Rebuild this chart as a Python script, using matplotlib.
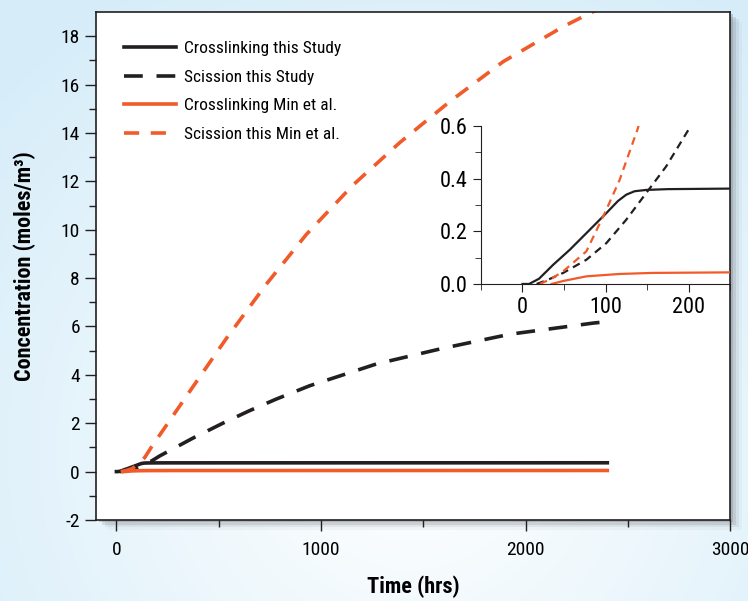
import numpy as np
import matplotlib.pyplot as plt
from matplotlib import font_manager
from matplotlib.colors import LinearSegmentedColormap

# crosslinking, this study
t_xl_us = [0, 8, 20, 37, 57, 77, 101, 115, 125, 135, 149, 175, 250, 2400]
xl_us = [0, 0, 0.02, 0.073, 0.13, 0.193, 0.269, 0.315, 0.339, 0.352, 0.357, 0.36, 0.362, 0.365]

# scission, this study
t_sc_us = [17, 30, 49, 77, 101, 125, 149, 173, 201, 210, 373, 520, 651, 782, 945, 1271, 1597, 1924, 2331, 2400]
sc_us = [0, 0.015, 0.042, 0.092, 0.155, 0.244, 0.345, 0.446, 0.591, 0.64, 1.38, 2.0, 2.52, 3.0, 3.55, 4.45, 5.1, 5.68, 6.14, 6.2]

# crosslinking, Min et al.
t_xl_min = [35, 50, 77, 117, 157, 249, 2400]
xl_min = [0, 0.012, 0.029, 0.038, 0.042, 0.044, 0.046]

# scission, Min et al.
t_sc_min = [21, 35, 49, 77, 101, 117, 139, 170, 357, 537, 733, 928, 1157, 1385, 1630, 1891, 2185, 2331, 2400]
sc_min = [0, 0.02, 0.048, 0.124, 0.282, 0.395, 0.591, 1.0, 3.3, 5.5, 7.75, 9.8, 11.85, 13.6, 15.3, 16.95, 18.4, 19.02, 19.3]

labels = ["Crosslinking this Study", "Scission this Study",
          "Crosslinking Min et al.", "Scission this Min et al."]

black = "#231f20"
orange = "#f15a29"

names = set(f.name for f in font_manager.fontManager.ttflist)
fam = "DejaVu Sans"
for c in ["Liberation Sans Narrow", "Roboto Condensed", "Open Sans Condensed",
          "Noto Sans Condensed", "DejaVu Sans Condensed"]:
    if c in names:
        fam = c
        break
plt.rcParams['font.family'] = [fam, 'DejaVu Sans']
plt.rcParams['font.stretch'] = 'condensed'
plt.rcParams['axes.unicode_minus'] = False

fig = plt.figure(figsize=(7.48, 6.01), dpi=100)

# light blue background
bg = fig.add_axes([0, 0, 1, 1], zorder=-10)
yy, xx = np.mgrid[0:1:300j, 0:1:300j]
d = np.sqrt(((xx - 0.55) / 0.75) ** 2 + ((yy - 0.25) / 0.9) ** 2)
bg.imshow(np.clip(d, 0, 1), cmap=LinearSegmentedColormap.from_list("b", ["#ffffff", "#d6edf9"]),
          extent=[0, 1, 0, 1], aspect="auto", origin="lower")
bg.axis("off")

# shadow under the plot box
for i, a in enumerate([0.35, 0.2, 0.12, 0.06]):
    fig.patches.append(plt.Rectangle((0.1283 + (i + 1) * 0.004, 0.1348 - (i + 1) * 0.004),
                                     0.8477, 0.8452, transform=fig.transFigure,
                                     facecolor="#7a8088", alpha=a, zorder=-5, linewidth=0))

ax = fig.add_axes([0.1283, 0.1348, 0.8477, 0.8452])
ax.set_facecolor("white")
ax.plot(t_xl_us, xl_us, color=black, lw=2.6, label=labels[0])
ax.plot(t_sc_us, sc_us, color=black, lw=2.6, dashes=(5.2, 3.8), label=labels[1])
ax.plot(t_xl_min, xl_min, color=orange, lw=2.6, label=labels[2])
ax.plot(t_sc_min, sc_min, color=orange, lw=2.6, dashes=(4.2, 3.2), label=labels[3])
ax.set_xlim(-100, 3000)
ax.set_ylim(-2, 19)
ax.set_xticks([0, 1000, 2000, 3000])
ax.set_xticks([500, 1500, 2500], minor=True)
ax.set_yticks(np.arange(-2, 19, 2))
ax.set_yticks(np.arange(-1, 19, 2), minor=True)
ax.tick_params(which="both", direction="out", labelsize=14, color=black, width=1)
ax.tick_params(which="major", length=8)
ax.tick_params(which="minor", length=5)
ax.tick_params(axis="x", pad=7)
for s in ax.spines.values():
    s.set_color(black)
    s.set_linewidth(1.2)
ax.set_xlabel("Time (hrs)", fontsize=16, fontweight="bold", labelpad=12)
ax.set_ylabel("Concentration (moles/m³)", fontsize=16, fontweight="bold", labelpad=18)
ax.legend(loc="upper left", frameon=False, fontsize=12.5, handlelength=3.0,
          labelspacing=0.78, handletextpad=0.45, borderaxespad=0.3,
          bbox_to_anchor=(0.025, 0.967))

ins = fig.add_axes([0.643, 0.5275, 0.333, 0.263])
ins.patch.set_alpha(0)
ins.plot(t_xl_us, xl_us, color=black, lw=1.6)
ins.plot(t_sc_us, sc_us, color=black, lw=1.6, dashes=(3.5, 2.5))
ins.plot(t_xl_min, xl_min, color=orange, lw=1.6)
ins.plot(t_sc_min, sc_min, color=orange, lw=1.6, dashes=(3.5, 2.5))
ins.set_xlim(-50, 250)
ins.set_ylim(0, 0.6)
ins.set_xticks([0, 100, 200])
ins.set_xticks([-50, 50, 150, 250], minor=True)
ins.set_yticks([0, 0.2, 0.4, 0.6])
ins.set_yticks([0.1, 0.3, 0.5], minor=True)
ins.yaxis.set_major_formatter(plt.FormatStrFormatter("%.1f"))
ins.spines["top"].set_visible(False)
ins.spines["right"].set_visible(False)
for s in ins.spines.values():
    s.set_color(black)
ins.tick_params(which="both", direction="out", labelsize=16, color=black)
ins.tick_params(which="major", length=6)
ins.tick_params(which="minor", length=4)

fig.savefig("out.png", dpi=100)
